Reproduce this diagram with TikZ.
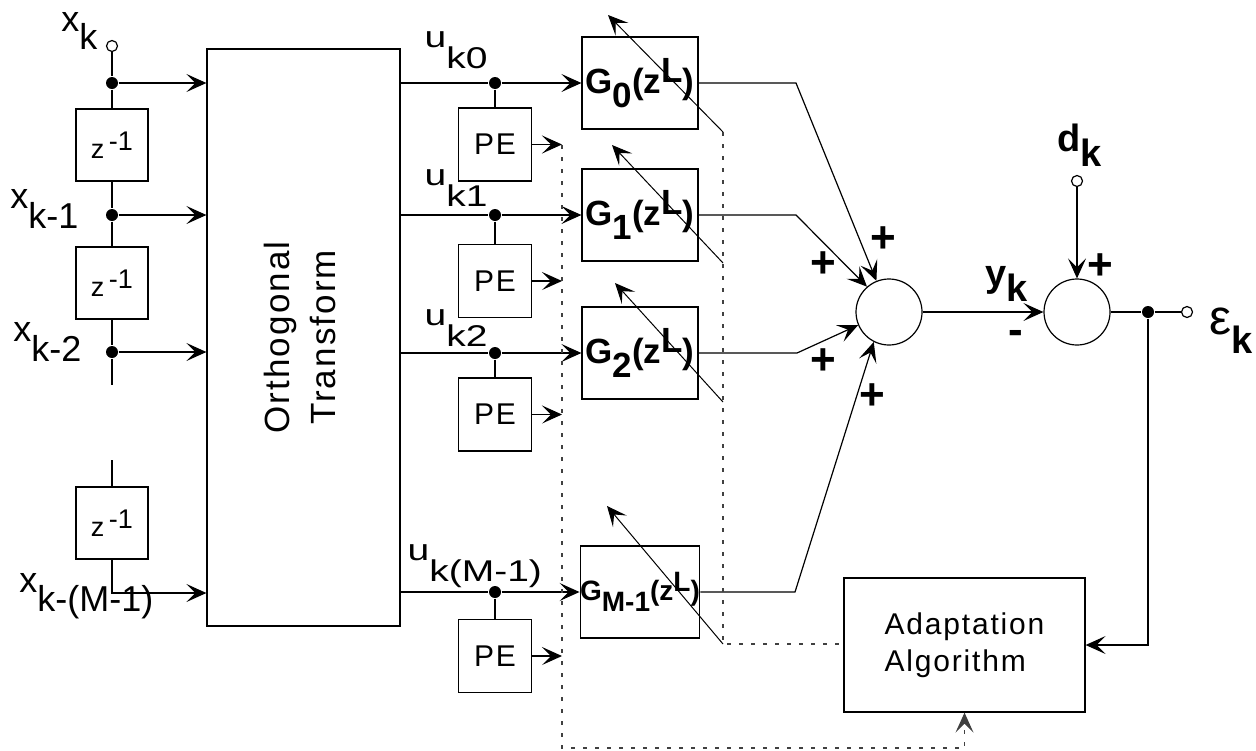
\documentclass[tikz,border=0pt]{standalone}
\usepackage{graphicx}
\usepackage{fontspec}
\setmainfont{Liberation Sans}
\newfontfamily\trk{Liberation Sans}[LetterSpace=6]
\newfontfamily\wde{Liberation Sans}[FakeStretch=1.3]
\usetikzlibrary{arrows.meta,positioning}
\newcommand{\lowr}[2][.45em]{\raisebox{-#1}{#2}}
\newcommand{\upr}[1]{\raisebox{.3em}{#1}}

\begin{document}
\begin{tikzpicture}[x=0.5pt,y=-0.5pt,line width=0.6pt,
      >={Stealth[length=10pt,width=9pt,inset=4.5pt]},
      zbox/.style={draw,minimum size=36pt,inner sep=0pt,font=\fontsize{13.5}{14}\selectfont},
      pe/.style={draw,minimum size=36.5pt,inner sep=0pt,font=\trk\fontsize{15}{15}\selectfont},
      filt/.style={draw,minimum width=58pt,minimum height=46pt,inner sep=0pt,font=\bfseries\fontsize{17.5}{17.5}\selectfont},
      jdot/.style={circle,fill,inner sep=0pt,minimum size=6pt},
      port/.style={circle,draw,fill=white,inner sep=0pt,minimum size=5.5pt},
      summer/.style={circle,draw,minimum size=33pt,inner sep=0pt},
      sig/.style={inner sep=0pt,font=\fontsize{18}{18}\selectfont},
      usig/.style={inner sep=0pt,font=\wde\fontsize{15}{15}\selectfont},
      bsig/.style={inner sep=0pt,font=\bfseries\fontsize{19}{19}\selectfont},
      sgn/.style={inner sep=0pt,font=\bfseries\fontsize{22}{22}\selectfont},
      bus/.style={black!75,dash pattern=on 2pt off 4pt},
      tune/.style={->,line width=0.5pt}]
  \useasboundingbox (0,0) rectangle (1256,750);

  % tapped delay line
  \node[port] (xk) at (112,46) {};
  \node[jdot] (x0) at (112,83) {};
  \node[zbox] (z1) at (112,145) {z\upr{\,-1}};
  \node[jdot] (x1) at (112,215) {};
  \node[zbox] (z2) at (112,283) {z\upr{\,-1}};
  \node[jdot] (x2) at (112,352) {};
  \coordinate (gapA) at (112,385);
  \coordinate (gapB) at (112,460);
  \node[zbox] (z3) at (112,523) {z\upr{\,-1}};
  \coordinate (x3) at (112,593);

  \node[sig,anchor=south east] (lxk) at (98,50) {x\lowr[.5em]{k}};
  \node[sig,anchor=south east] (lx1) at (79,229) {x\lowr[.55em]{k-1}};
  \node[sig,anchor=south east] (lx2) at (82,362) {x\lowr[.55em]{k-2}};
  \node[sig,anchor=south east] (lx3) at (154,620) {x\lowr[.55em]{k-(M-1)}};

  \node[draw,minimum width=96.5pt,minimum height=288.5pt,inner sep=0pt] (orth) at (303.5,337.5)
    {\rotatebox{90}{\trk\fontsize{17.5}{23}\selectfont\begin{tabular}{@{}c@{}}Orthogonal\\Transform\end{tabular}}};

  % transform outputs, power estimators and filters
  \node[jdot] (u0) at (495,83) {};
  \node[jdot] (u1) at (495,215) {};
  \node[jdot] (u2) at (495,353) {};
  \node[jdot] (u3) at (495,592) {};
  \node[pe] (pe0) at (495,144.5) {PE};
  \node[pe] (pe1) at (495,281) {PE};
  \node[pe] (pe2) at (495,414.5) {PE};
  \node[pe] (pe3) at (495,656) {PE};
  \node[filt] (g0) at (640,83) {G\lowr[.4em]{0}(z\upr{L})};
  \node[filt] (g1) at (640,215) {G\lowr[.4em]{1}(z\upr{L})};
  \node[filt] (g2) at (640,353) {G\lowr[.4em]{2}(z\upr{L})};
  \node[filt,font=\bfseries\fontsize{14}{14}\selectfont] (g3) at (640,592) {G\lowr[.4em]{M-1}(z\upr{L})};

  \node[usig,anchor=south west] (lu0) at (424,69) {u\lowr[.7em]{k0}};
  \node[usig,anchor=south west] (lu1) at (424,207) {u\lowr[.7em]{k1}};
  \node[usig,anchor=south west] (lu2) at (424,347) {u\lowr[.7em]{k2}};
  \node[usig,anchor=south west] (lu3) at (407,588) {u\lowr[.7em]{k(M-1)}};

  \coordinate (pb0) at (562,145);
  \coordinate (pbb) at (562,748);
  \coordinate (t0) at (723,132); \coordinate (h0) at (608,15);
  \coordinate (t1) at (723,263); \coordinate (h1) at (612,145);
  \coordinate (t2) at (723,402); \coordinate (h2) at (615,283);
  \coordinate (t3) at (723,644); \coordinate (h3) at (607,506);

  % summing and error
  \node[summer] (adder) at (889,312) {};
  \node[summer] (diff) at (1077,312) {};
  \coordinate (b0) at (796,83);
  \coordinate (b1) at (796,215);
  \coordinate (b2) at (797,353);
  \coordinate (b3) at (795,592);
  \node[port] (dk) at (1077,181) {};
  \node[jdot] (ej) at (1148,312) {};
  \node[port] (ek) at (1187,312) {};
  \node[draw,minimum width=120.5pt,minimum height=67pt,align=left,
        font=\trk\fontsize{15}{18.5}\selectfont] (adapt) at (964.5,645) {Adaptation\\Algorithm};

  \node[bsig,anchor=south west] (lyk) at (985,302) {y\lowr[.4em]{k}};
  \node[bsig,anchor=south west] (ldk) at (1057,167) {d\lowr[.4em]{k}};
  \node[inner sep=0pt,anchor=south west,font=\fontsize{19}{19}\selectfont] (lek) at (1209,354)
    {\scalebox{1.3}{ε}\lowr[.5em]{\bfseries k}};
  \node[sgn] (p0) at (883,240) {+};
  \node[sgn] (p1) at (823,265) {+};
  \node[sgn] (p2) at (823,362) {+};
  \node[sgn] (p3) at (872,397) {+};
  \node[sgn] (p4) at (1100,267) {+};
  \node[sgn] (m0) at (1016,337) {-};

  \draw (xk) -- (x0) -- (z1) -- (x1) -- (z2) -- (x2) -- (gapA);
  \draw (gapB) -- (z3);
  \draw[->] (z3) |- (orth.west |- x3);
  \path[->] (x0) edge (orth.west |- x0)
            (x1) edge (orth.west |- x1)
            (x2) edge (orth.west |- x2);

  \foreach \i/\a in {0/112,1/131,2/203,3/243} {
    \draw (orth.east |- u\i) -- (u\i);
    \draw[->] (u\i) -- (g\i);
    \draw (u\i) -- (pe\i);
    \draw[->] (pe\i) -- (pe\i.east -| pb0);
    \draw[tune] (t\i) -- (h\i);
    \draw[->] (g\i) -- (b\i) -- (adder.\a);
  }

  \draw[bus,->] (pb0) -- (pbb) -| (adapt.south);
  \draw[bus] (t0) -- (t3) -- (adapt.west |- t3);

  \draw[->] (adder) -- (diff);
  \draw[->] (dk) -- (diff);
  \draw (diff) -- (ej) -- (ek);
  \draw[->] (ej) |- (adapt.east);
\end{tikzpicture}
\end{document}
